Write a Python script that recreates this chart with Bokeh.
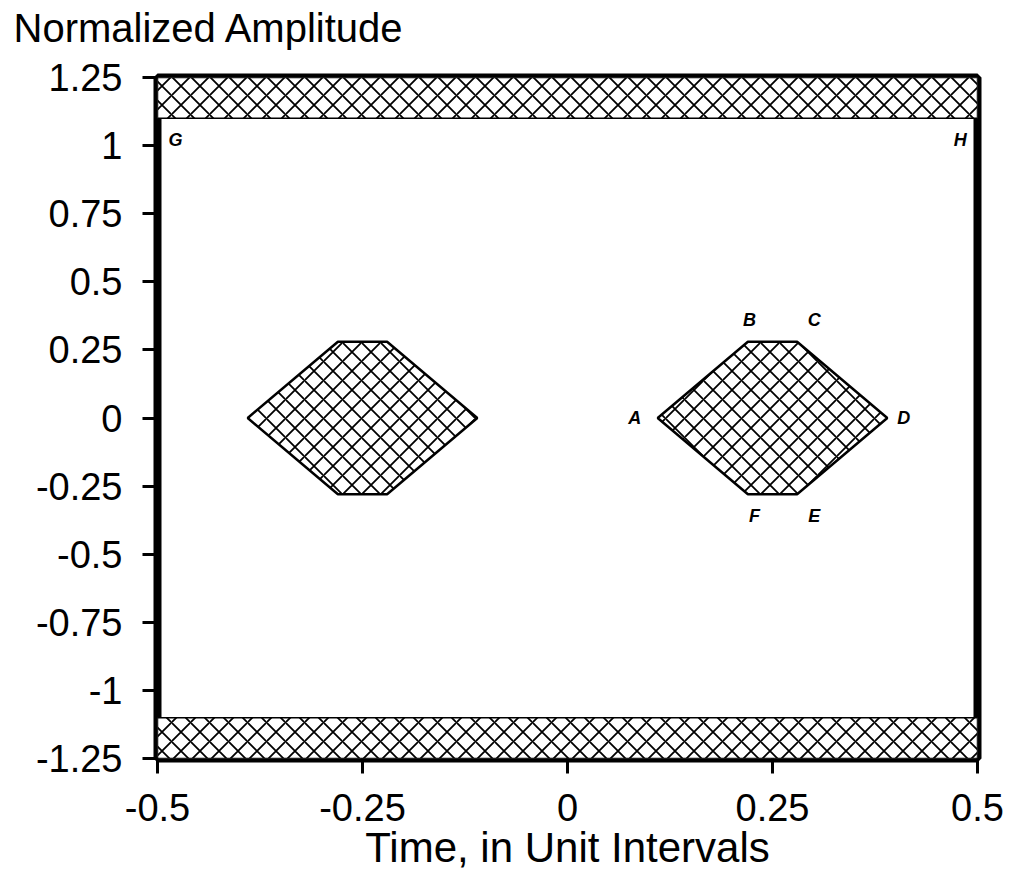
from bokeh.plotting import figure
from bokeh.models import FixedTicker, Range1d, Title, ColumnDataSource
from bokeh.core.properties import value
from bokeh.embed import file_html
from bokeh.resources import INLINE

# ---- data ----
x_ticks = [-0.5, -0.25, 0, 0.25, 0.5]
x_tick_labels = ["-0.5", "-0.25", "0", "0.25", "0.5"]
y_ticks = [-1.25, -1.0, -0.75, -0.5, -0.25, 0, 0.25, 0.5, 0.75, 1.0, 1.25]
y_tick_labels = ["-1.25", "-1", "-0.75", "-0.5", "-0.25", "0", "0.25", "0.5", "0.75", "1", "1.25"]

# forbidden bands (x from, x to, y bottom, y top)
band_left = [-0.5, -0.5]
band_right = [0.5, 0.5]
band_bottom = [1.1, -1.25]
band_top = [1.25, -1.1]

# eye-mask hexagons (vertices A..F)
left_eye_x = [-0.39, -0.28, -0.22, -0.11, -0.22, -0.28]
left_eye_y = [0.0, 0.28, 0.28, 0.0, -0.28, -0.28]
right_eye_x = [0.11, 0.22, 0.28, 0.39, 0.28, 0.22]
right_eye_y = [0.0, 0.28, 0.28, 0.0, -0.28, -0.28]

# point labels
pt_names = ["G", "H", "A", "B", "C", "D", "E", "F"]
pt_x = [-0.478, 0.479, 0.082, 0.222, 0.301, 0.41, 0.301, 0.228]
pt_y = [1.02, 1.02, 0.0, 0.36, 0.36, 0.0, -0.36, -0.36]

FONT = "Liberation Sans"

p = figure(width=1018, height=883,
           x_range=Range1d(-0.5, 0.5), y_range=Range1d(-1.25, 1.25),
           output_backend="svg", toolbar_location=None,
           min_border_left=157, min_border_right=41,
           min_border_top=74, min_border_bottom=125)
p.background_fill_color = "white"
p.border_fill_color = "white"
p.xgrid.visible = False
p.ygrid.visible = False
p.outline_line_color = "black"
p.outline_line_width = 8

p.quad(left=band_left, right=band_right, bottom=band_bottom, top=band_top,
       fill_color="white", line_color="black", line_width=1.5,
       hatch_pattern="diagonal_cross", hatch_scale=19, hatch_weight=1.8,
       hatch_color="black")

p.patches(xs=[left_eye_x, right_eye_x], ys=[left_eye_y, right_eye_y],
          fill_color="white", line_color="black", line_width=2.5,
          hatch_pattern="diagonal_cross", hatch_scale=19, hatch_weight=1.8,
          hatch_color="black")

src = ColumnDataSource(dict(x=pt_x, y=pt_y, t=pt_names))
p.text(x="x", y="y", text="t", source=src, text_font=value(FONT),
       text_font_size="18px", text_font_style="bold italic",
       text_align="center", text_baseline="middle", text_color="black")

for ax, ticks, labels in ((p.xaxis[0], x_ticks, x_tick_labels),
                          (p.yaxis[0], y_ticks, y_tick_labels)):
    ax.ticker = FixedTicker(ticks=ticks)
    ax.major_label_overrides = {t: l for t, l in zip(ticks, labels)}
    ax.axis_line_color = None
    ax.major_tick_out = 15
    ax.major_tick_in = 0
    ax.major_tick_line_width = 3
    ax.major_tick_line_color = "black"
    ax.minor_tick_line_color = None
    ax.major_label_text_font = FONT
    ax.major_label_text_font_size = "38px"
    ax.major_label_text_color = "black"

p.yaxis[0].major_label_standoff = 20
p.xaxis[0].major_label_standoff = 20
p.xaxis[0].axis_label = "Time, in Unit Intervals"
p.xaxis[0].axis_label_text_font = FONT
p.xaxis[0].axis_label_text_font_size = "42px"
p.xaxis[0].axis_label_text_font_style = "normal"
p.xaxis[0].axis_label_text_color = "black"
p.xaxis[0].axis_label_standoff = 0

# heading (plot title, outermost) plus a small spacer title next to the frame
p.title.text = "Normalized Amplitude"
p.title.align = "left"
p.title.offset = -144
p.title.vertical_align = "top"
p.title.text_font = FONT
p.title.text_font_size = "40px"
p.title.text_font_style = "normal"
p.title.text_color = "black"
p.add_layout(Title(text=" ", text_font_size="8px"), "above")

open("out.html", "w").write(file_html(p, INLINE))
